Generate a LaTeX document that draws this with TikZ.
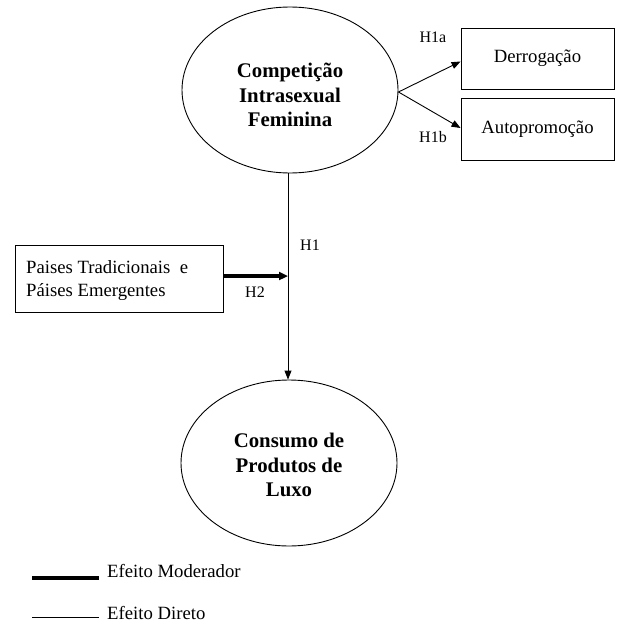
\documentclass[tikz,border=0pt]{standalone}
\usepackage{fontspec}
\setmainfont{Liberation Serif}
\usetikzlibrary{shapes.geometric,arrows.meta}
\tikzset{
  lat/.style={ellipse,draw,line width=0.9pt,minimum width=216pt,minimum height=166pt,inner sep=0pt},
  lattxt/.style={align=center,inner sep=0pt,font=\fontsize{20.8}{24.5}\selectfont\bfseries},
  obs/.style={rectangle,draw,line width=0.9pt,inner sep=0pt,font=\fontsize{18.7}{23}\selectfont},
  lbl/.style={font=\fontsize{16}{19}\selectfont,inner sep=0pt},
  direct/.style={line width=0.9pt,-{Triangle[length=9pt,width=7pt]}},
  moder/.style={line width=3.2pt,-{Triangle[length=9pt,width=8pt]}},
  legtxt/.style={font=\fontsize{18.7}{23}\selectfont,inner sep=0pt,anchor=base west}
}
\begin{document}
\begin{tikzpicture}[x=1pt,y=-1pt]
\useasboundingbox (0,0) rectangle (617,623);
\node[lat] (cif) at (290,90) {};
\node[lattxt] (ciftxt) at (290,95) {Competição\\Intrasexual\\Feminina};
\node[lat] (cpl) at (289,463) {};
\node[lattxt] (cpltxt) at (289,465) {Consumo de\\Produtos de\\Luxo};
\node[obs,minimum width=153pt,minimum height=61pt] (der) at (537.5,58.5) {\raisebox{-3pt}{Derrogação}};
\node[obs,minimum width=153pt,minimum height=62pt] (aut) at (537.5,129) {\raisebox{-3pt}{Autopromoção}};
\node[obs,minimum width=208pt,minimum height=67pt] (pai) at (119,278.5) {};
\node[align=left,inner sep=0pt,anchor=west,font=\fontsize{18.7}{23}\selectfont] (paitxt) at (26,281) {Paises Tradicionais~ e\\Páises Emergentes};
\coordinate (j) at (288,276);
\draw[direct] ([yshift=-2pt]cif.east) -- ([yshift=-3pt]der.west);
\draw[direct] ([yshift=-2pt]cif.east) -- ([yshift=1pt]aut.west);
\draw[direct] (cif.south -| j) -- (cpl.north -| j);
\draw[moder] (pai.east |- j) -- (j);
\node[lbl] (h1a) at (433,37) {H1a};
\node[lbl] (h1b) at (433,137) {H1b};
\node[lbl] (h1) at (310,245) {H1};
\node[lbl] (h2) at (255,292) {H2};
\coordinate (m1) at (32,578);
\coordinate (m2) at (99,578);
\coordinate (d1) at (32,617);
\coordinate (d2) at (99,617);
\draw[line width=3.2pt] (m1) -- (m2);
\draw[line width=0.9pt] (d1) -- (d2);
\node[legtxt] (lm) at (107,577) {Efeito Moderador};
\node[legtxt] (ld) at (107,619) {Efeito Direto};
\end{tikzpicture}
\end{document}
